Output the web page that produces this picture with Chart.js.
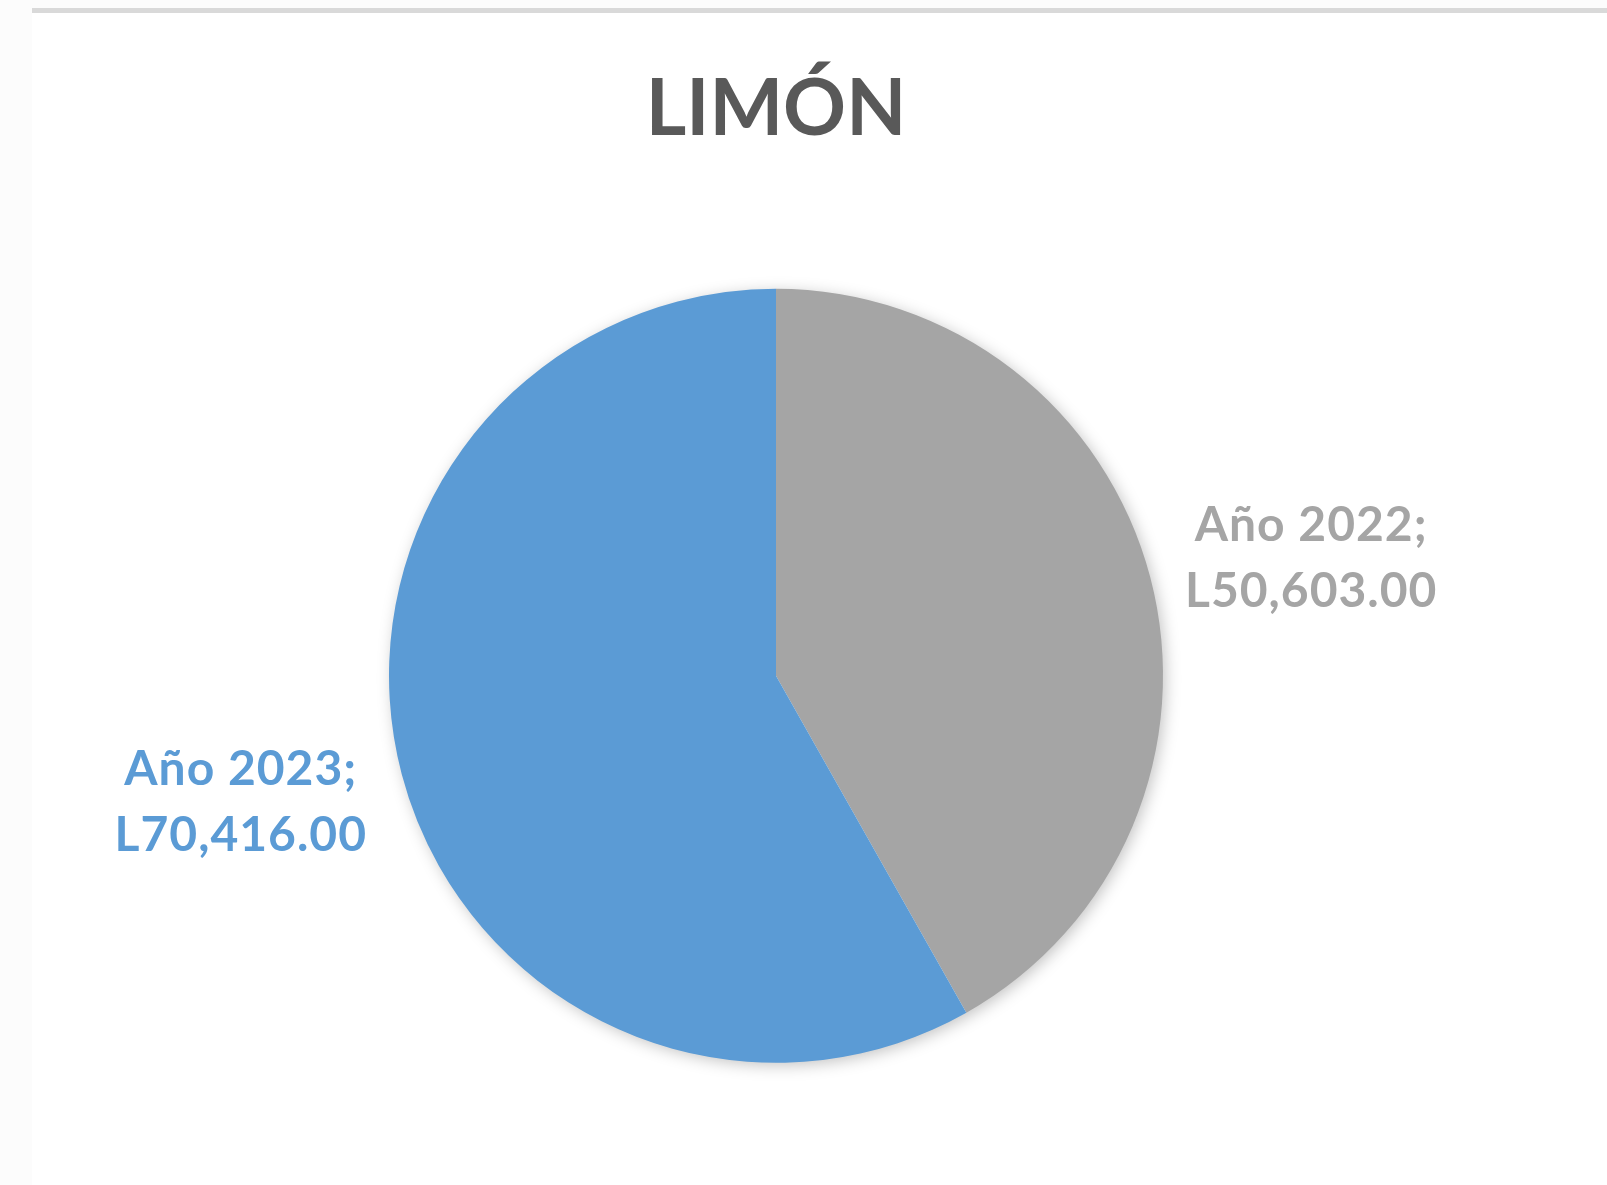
<!DOCTYPE html>
<html>
<head>
<meta charset="utf-8">
<script src="https://cdn.jsdelivr.net/npm/chart.js@4.4.0/dist/chart.umd.min.js"></script>
<style>
  html, body { margin: 0; padding: 0; background: #fcfcfc; overflow: hidden; }
  #panel { position: absolute; left: 32px; top: 8px; right: 0; bottom: 0;
           background: #fff; border-top: 5px solid #d9d9d9; }
  #wrap { position: absolute; left: 0; top: 0; width: 1607px; height: 1185px; }
</style>
</head>
<body>
<div id="panel"></div>
<div id="wrap"><canvas id="mycanvas" width="1607" height="1185"></canvas></div>
<script>
var titulo = 'LIMÓN';
var categorias = ['Año 2022', 'Año 2023'];
var valores = [50603, 70416];
var colores = ['#a5a5a5', '#5b9bd5'];

function formato(v) {
  return 'L' + v.toLocaleString('en-US', { minimumFractionDigits: 2, maximumFractionDigits: 2 });
}

// sombra suave alrededor del pastel (un solo disco debajo de las porciones)
var sombra = {
  id: 'sombra',
  beforeDatasetsDraw: function(chart) {
    var ctx = chart.ctx;
    var arc = chart.getDatasetMeta(0).data[0];
    if (!arc) return;
    var p = arc.getProps(['x', 'y', 'outerRadius'], true);
    ctx.save();
    ctx.shadowColor = 'rgba(0,0,0,0.25)';
    ctx.shadowBlur = 16;
    ctx.shadowOffsetX = 3;
    ctx.shadowOffsetY = 3;
    ctx.fillStyle = '#ffffff';
    ctx.beginPath();
    ctx.arc(p.x, p.y, p.outerRadius - 1, 0, Math.PI * 2);
    ctx.fill();
    ctx.restore();
  }
};

// etiquetas fuera del pastel
var etiquetas = {
  id: 'etiquetas',
  afterDraw: function(chart) {
    var ctx = chart.ctx;
    var meta = chart.getDatasetMeta(0);
    ctx.save();
    ctx.font = 'bold 48px Lato';
    ctx.letterSpacing = '1px';
    ctx.textAlign = 'center';
    ctx.textBaseline = 'middle';
    meta.data.forEach(function(arc, i) {
      var p = arc.getProps(['x', 'y', 'startAngle', 'endAngle', 'outerRadius'], true);
      var mid = (p.startAngle + p.endAngle) / 2;
      var x = p.x + Math.cos(mid) * p.outerRadius * 1.43;
      var y = p.y + Math.sin(mid) * p.outerRadius * 1.24 + 4;
      ctx.fillStyle = colores[i];
      ctx.fillText(categorias[i] + ';', x, y - 32);
      ctx.fillText(formato(valores[i]), x, y + 34);
    });
    ctx.restore();
  }
};

var ctx = document.getElementById('mycanvas');
var chart = new Chart(ctx, {
  type: 'pie',
  data: {
    labels: categorias,
    datasets: [{
      data: valores,
      backgroundColor: colores,
      borderWidth: 0,
      radius: 387
    }]
  },
  options: {
    responsive: false,
    animation: false,
    layout: { padding: { left: 30, right: 85, top: 0, bottom: 122 } },
    plugins: {
      legend: { display: false },
      tooltip: { enabled: false },
      title: {
        display: true,
        text: titulo,
        color: '#595959',
        font: { family: 'Lato', size: 78, weight: 'bold' },
        padding: { top: 63, bottom: 132 }
      }
    }
  },
  plugins: [sombra, etiquetas]
});
</script>
</body>
</html>
